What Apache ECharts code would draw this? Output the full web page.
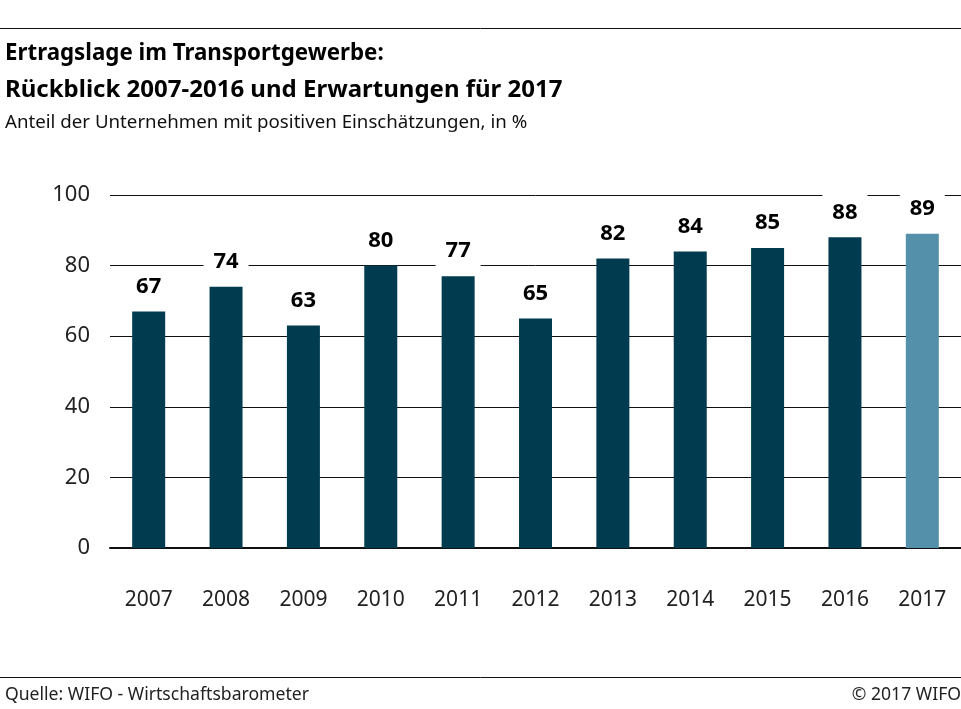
<!DOCTYPE html>
<html>
<head>
<meta charset="utf-8">
<title>Ertragslage im Transportgewerbe</title>
<script src="https://cdn.jsdelivr.net/npm/echarts@6/dist/echarts.min.js"></script>
<style>
html, body { margin: 0; padding: 0; background: #fff; }
#main { width: 961px; height: 709px; }
</style>
</head>
<body>
<div id="main"></div>
<script>
var years = ['2007','2008','2009','2010','2011','2012','2013','2014','2015','2016','2017'];
var shares = [67, 74, 63, 80, 77, 65, 82, 84, 85, 88, 89];
var yTicks = [0, 20, 40, 60, 80, 100];
var forecastYear = '2017';

var fontName = '"Noto Sans", sans-serif';
var myChart = echarts.init(document.getElementById('main'));

var option = {
	backgroundColor: '#fff',
	animation: false,
	title: [
		{ text: 'Ertragslage im Transportgewerbe:', left: 5, top: 43, padding: 0, textStyle: { fontFamily: fontName, fontSize: 22.3, fontWeight: 'bold', color: '#000' } },
		{ text: 'Rückblick 2007-2016 und Erwartungen für 2017', left: 5, top: 78, padding: 0, textStyle: { fontFamily: fontName, fontSize: 24, fontWeight: 'bold', color: '#000' } },
		{ text: 'Anteil der Unternehmen mit positiven Einschätzungen, in %', left: 5, top: 113, padding: 0, textStyle: { fontFamily: fontName, fontSize: 18.7, fontWeight: 'normal', color: '#111' } },
		{ text: 'Quelle: WIFO - Wirtschaftsbarometer', left: 5, top: 686, padding: 0, textStyle: { fontFamily: fontName, fontSize: 17.6, fontWeight: 'normal', color: '#222' } },
		{ text: '© 2017 WIFO', right: 0, top: 686, padding: 0, textStyle: { fontFamily: fontName, fontSize: 17.6, fontWeight: 'normal', color: '#222' } }
	],
	grid: { left: 110, right: 0, top: 195, bottom: 161 },
	xAxis: {
		type: 'category',
		data: years,
		axisTick: { show: false },
		axisLine: { lineStyle: { color: '#111', width: 2 } },
		axisLabel: { margin: 42, fontFamily: fontName, fontSize: 21, color: '#222' }
	},
	yAxis: {
		type: 'value',
		min: yTicks[0],
		max: yTicks[yTicks.length - 1],
		interval: 20,
		axisLine: { show: false },
		axisTick: { show: false },
		axisLabel: { margin: 20, padding: [5, 0, 0, 0], fontFamily: fontName, fontSize: 22, color: '#222' },
		splitLine: { lineStyle: { color: '#111', width: 1 } }
	},
	series: [{
		type: 'bar',
		data: shares,
		barWidth: 33,
		itemStyle: {
			color: function(p) {
				return p.name === forecastYear ? '#5590ab' : '#003b50';
			}
		},
		label: {
			show: true,
			position: 'top',
			distance: 5,
			width: 45,
			height: 40,
			lineHeight: 40,
			align: 'center',
			backgroundColor: '#fff',
			fontFamily: fontName,
			fontSize: 22,
			fontWeight: 'bold',
			color: '#000'
		}
	}],
	graphic: [
		{ type: 'line', shape: { x1: 0, y1: 28.5, x2: 961, y2: 28.5 }, style: { stroke: '#111', lineWidth: 1 } },
		{ type: 'line', shape: { x1: 0, y1: 677.5, x2: 961, y2: 677.5 }, style: { stroke: '#111', lineWidth: 1 } }
	]
};

if (option && typeof option === "object") {
	myChart.setOption(option, true);
}
</script>
</body>
</html>
